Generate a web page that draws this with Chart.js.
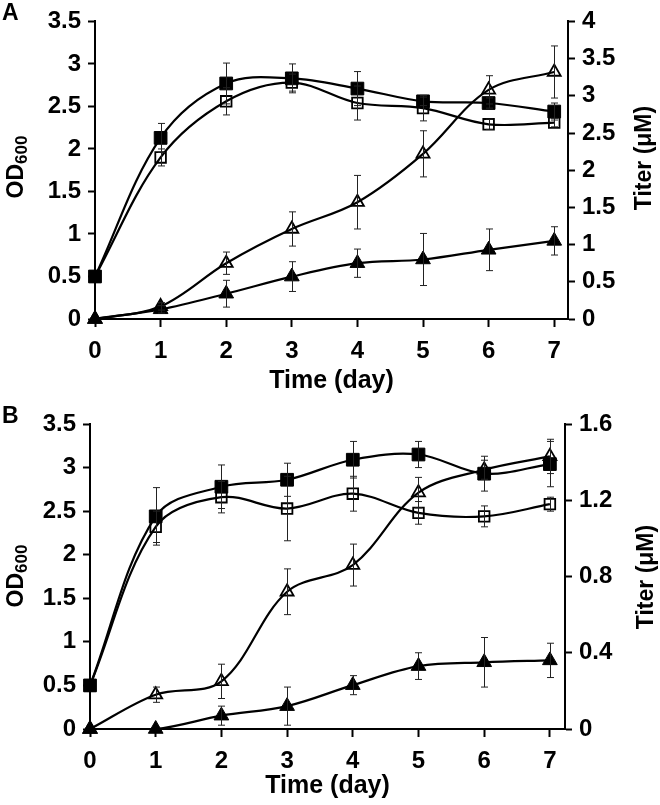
<!DOCTYPE html>
<html><head><meta charset="utf-8">
<script src="https://cdn.jsdelivr.net/npm/chart.js@4.4.0/dist/chart.umd.min.js"></script>
<style>
body{margin:0;background:#fff;}
#wrap{position:relative;width:660px;height:805px;background:#fff;overflow:hidden;font-family:"Liberation Sans",Arial,sans-serif;}
canvas{position:absolute;left:0;}
.panel{position:absolute;left:2px;font-weight:bold;font-size:23px;line-height:23px;color:#000;}
.ytitle{position:absolute;width:200px;height:26px;line-height:26px;text-align:center;font-weight:bold;font-size:23px;color:#000;transform:rotate(-90deg);transform-origin:50% 50%;white-space:nowrap;}
.ytitle sub{font-size:17px;vertical-align:-4px;line-height:0;}
</style></head><body>
<div id="wrap">
<canvas id="chartA" width="660" height="400" style="top:0px"></canvas>
<canvas id="chartB" width="660" height="405" style="top:400px"></canvas>
<div class="panel" style="top:1px">A</div>
<div class="panel" style="top:404px">B</div>
<div class="ytitle" style="left:-85px;top:154px">OD<sub>600</sub></div>
<div class="ytitle" style="left:543px;top:145px">Titer (μM)</div>
<div class="ytitle" style="left:-85px;top:563px">OD<sub>600</sub></div>
<div class="ytitle" style="left:545px;top:564px">Titer (μM)</div>
</div>
<script>
// ---------- data ----------
const days = [0, 1, 2, 3, 4, 5, 6, 7];
const xTickLabels = ['0', '1', '2', '3', '4', '5', '6', '7'];
const odTickValues = [0, 0.5, 1, 1.5, 2, 2.5, 3, 3.5];
const odTickLabels = ['0', '0.5', '1', '1.5', '2', '2.5', '3', '3.5'];
const titerTickValuesA = [0, 0.5, 1, 1.5, 2, 2.5, 3, 3.5, 4];
const titerTickLabelsA = ['0', '0.5', '1', '1.5', '2', '2.5', '3', '3.5', '4'];
const titerTickValuesB = [0, 0.4, 0.8, 1.2, 1.6];
const titerTickLabelsB = ['0', '0.4', '0.8', '1.2', '1.6'];

// Panel A
const aOdFilled = [0.5, 2.13, 2.77, 2.83, 2.71, 2.56, 2.54, 2.44];
const aOdFilledErr = [0, 0.17, 0.24, 0.17, 0.2, 0.05, 0.06, 0.1];
const aOdOpen = [0.5, 1.9, 2.56, 2.78, 2.54, 2.48, 2.29, 2.31];
const aOdOpenErr = [0, 0.1, 0.16, 0.1, 0.2, 0.15, 0.06, 0.05];
const aTiterOpen = [0, 0.17, 0.75, 1.21, 1.57, 2.22, 3.08, 3.32];
const aTiterOpenErr = [0, 0.05, 0.15, 0.23, 0.36, 0.31, 0.19, 0.35];
const aTiterFilled = [0, 0.13, 0.34, 0.57, 0.75, 0.8, 0.93, 1.05];
const aTiterFilledErr = [0, 0.05, 0.18, 0.2, 0.19, 0.35, 0.28, 0.19];

// Panel B
const bOdFilled = [0.5, 2.44, 2.78, 2.86, 3.09, 3.15, 2.93, 3.04];
const bOdFilledErr = [0, 0.33, 0.25, 0.19, 0.21, 0.15, 0.2, 0.26];
const bOdOpen = [0.5, 2.32, 2.66, 2.53, 2.70, 2.48, 2.44, 2.58];
const bOdOpenErr = [0, 0.18, 0.18, 0.37, 0.2, 0.13, 0.12, 0.08];
const bTiterOpen = [0, 0.18, 0.25, 0.72, 0.86, 1.24, 1.36, 1.43];
const bTiterOpenErr = [0, 0.04, 0.09, 0.12, 0.11, 0.08, 0.05, 0.09];
const bTiterFilled = [0, 0, 0.07, 0.12, 0.23, 0.33, 0.35, 0.36];
const bTiterFilledErr = [0, 0, 0.05, 0.1, 0.05, 0.07, 0.13, 0.09];

// ---------- helpers ----------
const FONT = '"Liberation Sans", Arial, sans-serif';
const tickFont = { family: FONT, size: 24, weight: 'bold' };
const titleFont = { family: FONT, size: 25, weight: 'bold' };

const errorBars = {
  id: 'errorBars',
  afterDatasetsDraw(chart) {
    const ctx = chart.ctx;
    const xs = chart.scales.x;
    chart.data.datasets.forEach((ds, i) => {
      if (!ds.errors) return;
      const ys = chart.scales[ds.yAxisID];
      ctx.save();
      ctx.strokeStyle = '#222';
      ctx.lineWidth = 1;
      ds.data.forEach((p, j) => {
        const e = ds.errors[j];
        if (!e) return;
        const x = Math.round(xs.getPixelForValue(p.x)) + 0.5;
        const y1 = ys.getPixelForValue(p.y + e);
        const y2 = ys.getPixelForValue(p.y - e);
        ctx.beginPath();
        ctx.moveTo(x, y1); ctx.lineTo(x, y2);
        ctx.moveTo(x - 3.5, y1); ctx.lineTo(x + 3.5, y1);
        ctx.moveTo(x - 3.5, y2); ctx.lineTo(x + 3.5, y2);
        ctx.stroke();
      });
      ctx.restore();
    });
  }
};

function pts(vals) { return days.map((d, k) => ({ x: d, y: vals[k] })); }

function series(vals, errs, axis, style, filled, radius) {
  return {
    data: pts(vals), errors: errs, yAxisID: axis,
    borderColor: '#000', borderWidth: 2.2, tension: 0.35, fill: false, clip: false,
    pointStyle: style, pointRadius: radius,
    pointBackgroundColor: filled ? '#000' : 'rgba(0,0,0,0)',
    pointBorderColor: '#000', pointBorderWidth: filled ? 1 : 1.8
  };
}

function axisGrid(len) {
  return { display: true, drawOnChartArea: false, drawTicks: true, tickLength: len, tickColor: '#000', tickWidth: 2 };
}

function makeChart(id, g) {
  return new Chart(document.getElementById(id), {
    type: 'line',
    data: {
      datasets: [
        series(g.odFilled, g.odFilledErr, 'y', 'rect', true, 9),
        series(g.odOpen, g.odOpenErr, 'y', 'rect', false, 7.5),
        series(g.titerFilled, g.titerFilledErr, 'y2', 'triangle', true, 8.5),
        series(g.titerOpen, g.titerOpenErr, 'y2', 'triangle', false, 7.5)
      ]
    },
    options: {
      responsive: false, animation: false,
      layout: { padding: { top: g.padTop, left: 0, right: 0, bottom: 0 } },
      plugins: { legend: { display: false }, tooltip: { enabled: false } },
      scales: {
        x: {
          type: 'linear', min: 0, max: g.xMax,
          afterBuildTicks: s => { s.ticks = days.map(v => ({ value: v })); },
          ticks: { callback: (v, i) => xTickLabels[i], font: tickFont, color: '#000', padding: 10, maxRotation: 0 },
          grid: axisGrid(8),
          border: { display: true, color: '#000', width: 2 },
          title: { display: true, text: 'Time (day)', font: titleFont, color: '#000', padding: { top: 0, bottom: 4 } },
          afterFit: s => { s.height = g.xHeight; }
        },
        y: {
          position: 'left', min: 0, max: 3.5,
          afterBuildTicks: s => { s.ticks = odTickValues.map(v => ({ value: v })); },
          ticks: { callback: (v, i) => odTickLabels[i], font: tickFont, color: '#000', padding: 7 },
          grid: axisGrid(7),
          border: { display: true, color: '#000', width: 2 },
          title: { display: false },
          afterFit: s => { s.width = g.leftWidth; }
        },
        y2: {
          position: 'right', min: 0, max: g.titerMax,
          afterBuildTicks: s => { s.ticks = g.titerTicks.map(v => ({ value: v })); },
          ticks: { callback: (v, i) => g.titerLabels[i], font: tickFont, color: '#000', padding: 7 },
          grid: axisGrid(7),
          border: { display: true, color: '#000', width: 2 },
          title: { display: false },
          afterFit: s => { s.width = g.rightWidth; }
        }
      }
    },
    plugins: [errorBars]
  });
}

makeChart('chartA', {
  odFilled: aOdFilled, odFilledErr: aOdFilledErr, odOpen: aOdOpen, odOpenErr: aOdOpenErr,
  titerOpen: aTiterOpen, titerOpenErr: aTiterOpenErr, titerFilled: aTiterFilled, titerFilledErr: aTiterFilledErr,
  titerMax: 4, titerTicks: titerTickValuesA, titerLabels: titerTickLabelsA,
  xMax: 7.21, padTop: 15, leftWidth: 95, rightWidth: 92, xHeight: 81
});
makeChart('chartB', {
  odFilled: bOdFilled, odFilledErr: bOdFilledErr, odOpen: bOdOpen, odOpenErr: bOdOpenErr,
  titerOpen: bTiterOpen, titerOpenErr: bTiterOpenErr, titerFilled: bTiterFilled, titerFilledErr: bTiterFilledErr,
  titerMax: 1.6, titerTicks: titerTickValuesB, titerLabels: titerTickLabelsB,
  xMax: 7.23, padTop: 24, leftWidth: 90, rightWidth: 95, xHeight: 76
});
</script>
</body></html>
